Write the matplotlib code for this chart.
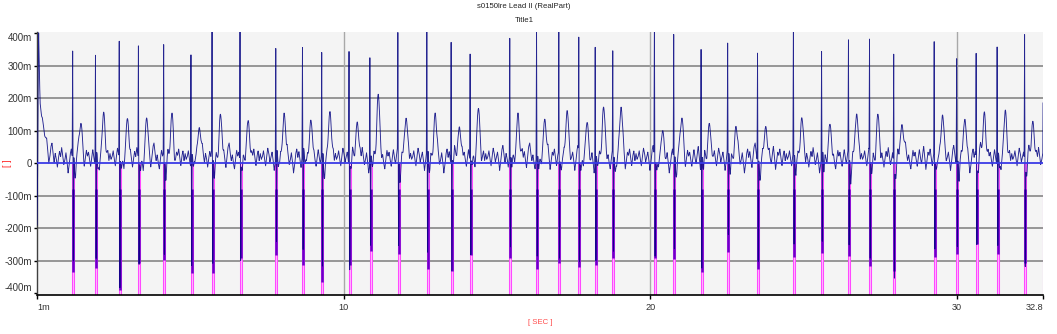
import numpy as np
import matplotlib
matplotlib.use("Agg")
import matplotlib.pyplot as plt

plt.rcParams['font.family'] = ['Liberation Sans Narrow', 'Liberation Sans', 'DejaVu Sans']

# ---- beat annotations (seconds / volts) ----
r_times = [1.164, 1.907, 2.682, 3.307, 4.131, 5.021, 5.708, 6.620, 7.786, 8.656,
           9.284, 10.174, 10.854, 11.766, 12.711, 13.503, 14.122, 15.415, 16.288, 17.014,
           17.665, 18.200, 18.773, 20.131, 20.760, 21.652, 22.519, 23.493, 24.662, 25.581,
           26.457, 27.144, 27.933, 29.252, 29.985, 30.620, 31.304, 32.200, 32.810]
r_amp = [0.322, 0.319, 0.361, 0.350, 0.331, 0.327, 0.368, 0.396, 0.332, 0.326,
         0.306, 0.355, 0.326, 0.355, 0.370, 0.380, 0.328, 0.359, 0.387, 0.386,
         0.353, 0.362, 0.312, 0.430, 0.375, 0.353, 0.323, 0.326, 0.393, 0.319,
         0.329, 0.344, 0.332, 0.339, 0.299, 0.322, 0.347, 0.385, 0.360]
s_amp = [-0.333, -0.322, -0.389, -0.307, -0.297, -0.337, -0.337, -0.292, -0.281, -0.312,
         -0.364, -0.312, -0.270, -0.278, -0.324, -0.330, -0.281, -0.291, -0.324, -0.306,
         -0.319, -0.313, -0.291, -0.291, -0.293, -0.334, -0.272, -0.324, -0.289, -0.275,
         -0.284, -0.316, -0.332, -0.288, -0.279, -0.248, -0.280, -0.306, -0.300]
t_amp = [0.121, 0.151, 0.130, 0.133, 0.147, 0.112, 0.147, 0.127, 0.151, 0.130,
         0.156, 0.126, 0.205, 0.139, 0.149, 0.113, 0.164, 0.154, 0.133, 0.159,
         0.120, 0.166, 0.172, 0.093, 0.137, 0.118, 0.108, 0.111, 0.137, 0.111,
         0.151, 0.144, 0.120, 0.147, 0.133, 0.156, 0.157, 0.126, 0.130]

# recording onset artefact (time, value)
onset_t = [0.001, 0.020, 0.040, 0.055, 0.070, 0.100, 0.150, 0.210, 0.260, 0.320, 0.370, 0.420, 0.550]
onset_v = [-0.190, -0.050, 0.300, 0.400, 0.320, 0.190, 0.135, 0.100, 0.075, 0.045, 0.025, 0.015, 0.0]

# atrial baseline activity, one cycle sampled every 35 ms
fwave = [0.020, 0.038, 0.012, -0.008, 0.022, 0.046, 0.030, 0.004, 0.018, 0.034,
         0.010, -0.022, 0.004, 0.040, 0.055, 0.026, 0.002, 0.030, 0.014, -0.012,
         0.016, 0.036, 0.020, 0.048, 0.024, -0.004, 0.010, 0.032, 0.006, -0.030,
         -0.006, 0.028, 0.044, 0.018, 0.036, 0.012, -0.014, 0.020, 0.050, 0.062,
         0.030, 0.008, 0.026, 0.000, -0.018, 0.014, 0.040, 0.022, 0.034, 0.010,
         -0.010, 0.018, 0.042, 0.016, -0.002, 0.028, 0.052, 0.020, -0.020, 0.006,
         0.034, 0.024, 0.044, 0.016, -0.008, 0.022, 0.038, 0.008, 0.030, 0.012]

y_ticks = [-0.4, -0.3, -0.2, -0.1, 0.0, 0.1, 0.2, 0.3, 0.4]
y_labels = ['-400m', '-300m', '-200m', '-100m', '0', '100m', '200m', '300m', '400m']
x_ticks = [0.001, 10, 20, 30, 32.8]
x_labels = ['1m', '10', '20', '30', '32.8']

T0, T1 = 0.001, 32.8
Y0, Y1 = -0.404, 0.403

# ---- assemble the lead trace ----
rt = np.asarray(r_times)
qrs_off = np.array([-0.016, 0.0, 0.022, 0.040])
qrs_t = (rt[:, None] + qrs_off[None, :]).ravel()
qrs_v = np.column_stack([np.zeros(len(rt)), r_amp, s_amp, np.zeros(len(rt))]).ravel()

t = np.union1d(np.arange(T0, T1 + 0.05, 0.002), qrs_t)
t = t[(t >= T0) & (t <= T1 + 0.05)]

step = 0.035
period = len(fwave) * step
fw_t = np.arange(len(fwave) + 1) * step
base = np.interp(t % period, fw_t, fwave + [fwave[0]])
base *= np.clip((t - 0.05) / 0.3, 0, 1)

# T-wave shapes; the atrial activity is largely hidden under each T wave
t_shape = np.zeros_like(t)
t_wave = np.zeros_like(t)
st_dip = np.zeros_like(t)
for tr, ta in zip(r_times, t_amp):
    g = np.exp(-0.5 * ((t - tr - 0.27) / 0.045) ** 2)
    t_shape = np.maximum(t_shape, g)
    t_wave += ta * g
    st_dip += -0.045 * np.exp(-0.5 * ((t - tr - 0.075) / 0.02) ** 2)

sig = base * (1 - 0.85 * t_shape) + t_wave + st_dip
sig += np.interp(t, onset_t, onset_v, right=0.0)
sig += np.interp(t, qrs_t, qrs_v, left=0.0, right=0.0)

s_times = rt + 0.022

# ---- figure ----
fig = plt.figure(figsize=(10.57, 3.34), dpi=100)
ax = fig.add_axes([37 / 1057, 1 - 294.7 / 334, (1043 - 37) / 1057, (294.7 - 32) / 334])
ax.set_facecolor('#f4f4f4')

for yv in [-0.3, -0.2, -0.1, 0.1, 0.2, 0.3]:
    ax.axhline(yv, color='#8f8f8f', lw=1.3, zorder=1)
for xv in [10, 20, 30]:
    ax.axvline(xv, color='#a8a8a8', lw=1.0, zorder=1)

# S-point markers
ax.vlines(s_times, Y0 - 0.05, 0, colors='#ff44ff', lw=2.2, zorder=2)
ax.vlines(s_times, Y0 - 0.05, 0, colors='#ffb0ff', lw=0.8, zorder=2.1)
ax.vlines(s_times, s_amp, -0.08, colors='#6a00c8', lw=1.8, zorder=2.2)

ax.plot(t, sig, color='#000080', lw=0.65, alpha=0.85, zorder=3)
ax.axhline(0, color='#3a3ae6', lw=1.3, zorder=4)

ax.set_xlim(T0, T1)
ax.set_ylim(Y0, Y1)

for side in ('top', 'right'):
    ax.spines[side].set_visible(False)
ax.spines['left'].set_color('#404040')
ax.spines['left'].set_linewidth(1.0)
ax.spines['bottom'].set_color('black')
ax.spines['bottom'].set_linewidth(1.2)

ax.set_xticks(x_ticks, x_labels)
ax.set_yticks(y_ticks, y_labels)
ax.tick_params(axis='x', length=3, width=1, pad=3, labelsize=6.6, labelcolor='#333333')
ax.tick_params(axis='y', length=2.5, width=1, pad=1.2, labelsize=7, labelcolor='#333333')
xl = ax.get_xticklabels()
xl[0].set_ha('left')
xl[-1].set_ha('right')
yl = ax.get_yticklabels()
yl[0].set_va('bottom')
yl[-1].set_va('top')

fig.text(524 / 1057, 1 - 7 / 334, 's0150lre Lead II (RealPart)', ha='center', va='center',
         fontsize=5.6, color='#222222')
fig.text(524 / 1057, 1 - 21 / 334, 'Title1', ha='center', va='center',
         fontsize=5.6, color='#222222')
fig.text(540 / 1057, 1 - 323 / 334, '[ SEC ]', ha='center', va='center',
         fontsize=5.6, color='#ff4d4d')
fig.text(8 / 1057, 1 - 163 / 334, '[ ]', ha='center', va='center', rotation=90,
         fontsize=6.5, color='#ff2020')

fig.savefig('out.png', dpi=100)
